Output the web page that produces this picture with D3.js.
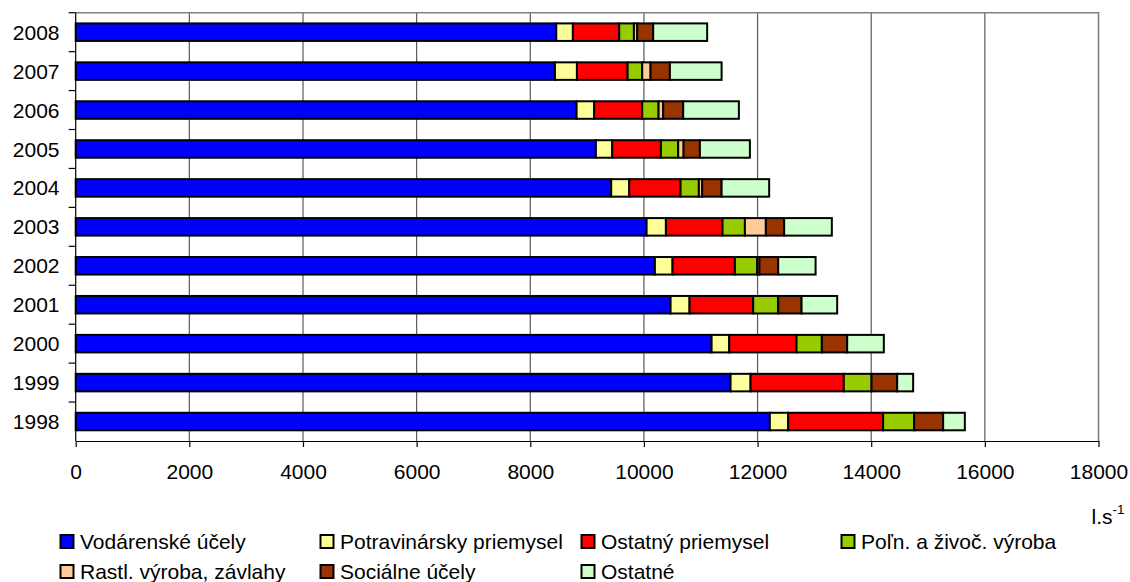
<!DOCTYPE html>
<html>
<head>
<meta charset="utf-8">
<script src="https://cdn.jsdelivr.net/npm/d3@7"></script>
<style>
  html, body { margin: 0; padding: 0; background: #fff; }
  svg { display: block; font-family: "Liberation Sans", Arial, sans-serif; }
</style>
</head>
<body>
<svg id="chart" width="1130" height="582"></svg>
<script>
// ---- data ----
const years = ["1998", "1999", "2000", "2001", "2002", "2003", "2004", "2005", "2006", "2007", "2008"];
const vodarenske      = [12216, 11525, 11191, 10469, 10193, 10047, 9424, 9155, 8815, 8434, 8457];
const potravinarsky   = [323, 352, 310, 334, 311, 340, 317, 287, 310, 387, 293];
const ostatnyPriemysel= [1671, 1641, 1185, 1120, 1097, 997, 904, 857, 845, 892, 815];
const polnVyroba      = [546, 488, 445, 440, 392, 393, 322, 304, 288, 257, 259];
const rastlVyroba     = [0, 0, 0, 0, 40, 369, 58, 95, 81, 147, 58];
const socialne        = [510, 451, 446, 411, 330, 322, 342, 287, 352, 340, 281];
const ostatne         = [382, 281, 645, 627, 658, 839, 837, 880, 980, 910, 950];
const seriesNames = ["Vodárenské účely", "Potravinársky priemysel", "Ostatný priemysel",
  "Poľn. a živoč. výroba", "Rastl. výroba, závlahy", "Sociálne účely", "Ostatné"];
const xTicks = [0, 2000, 4000, 6000, 8000, 10000, 12000, 14000, 16000, 18000];
const unitLabel = "l.s";
const unitSup = "-1";

// ---- styles ----
const colors = ["#0000FF", "#FFFF99", "#FF0000", "#99CC00", "#FFCC99", "#993300", "#CCFFCC"];
const seriesValues = [vodarenske, potravinarsky, ostatnyPriemysel, polnVyroba, rastlVyroba, socialne, ostatne];
const FS = "21px";

const table = years.map((y, i) => {
  const row = { year: y };
  seriesNames.forEach((s, k) => row[s] = seriesValues[k][i]);
  return row;
});
const stacked = d3.stack().keys(seriesNames)(table);

const svg = d3.select("#chart");
const plot = { left: 75.7, right: 1098.5, top: 12.7, bottom: 441 };

const x = d3.scaleLinear().domain([0, 18000]).range([plot.left, plot.right]);
const y = d3.scaleBand().domain(years.slice().reverse())
  .range([plot.top, plot.bottom]).paddingInner(0.55).paddingOuter(0.275);
const yOuter = d3.scaleBand().domain(years.slice().reverse()).range([plot.top, plot.bottom]);

// gridlines
svg.append("g").selectAll("line").data(xTicks.slice(1, -1)).join("line")
  .attr("x1", d => x(d)).attr("x2", d => x(d))
  .attr("y1", plot.top).attr("y2", plot.bottom)
  .attr("stroke", "#5a5a5a").attr("stroke-width", 1.2);

// plot border (top and right)
svg.append("path")
  .attr("d", `M${plot.left},${plot.top}H${plot.right}V${plot.bottom}`)
  .attr("fill", "none").attr("stroke", "#808080").attr("stroke-width", 1.6);

// bars
const layers = svg.append("g").selectAll("g").data(stacked).join("g")
  .attr("fill", (d, i) => colors[i]);
layers.selectAll("rect").data(d => d.filter(p => p[1] - p[0] > 0)).join("rect")
  .attr("x", d => x(d[0]))
  .attr("width", d => x(d[1]) - x(d[0]))
  .attr("y", d => y(d.data.year))
  .attr("height", y.bandwidth())
  .attr("stroke", "#000").attr("stroke-width", 2);

// x axis
const xAxis = svg.append("g").attr("transform", `translate(0,${plot.bottom})`)
  .call(d3.axisBottom(x).tickValues(xTicks).tickFormat(d3.format("d"))
    .tickSize(6).tickPadding(17).tickSizeOuter(0));
xAxis.select(".domain").attr("stroke", "#000").attr("stroke-width", 1.2);
xAxis.selectAll(".tick line").attr("stroke", "#000").attr("stroke-width", 1.2);
xAxis.selectAll("text").attr("font-size", FS).attr("fill", "#000")
  .attr("font-family", '"Liberation Sans", Arial, sans-serif');

// y axis
svg.append("line").attr("x1", plot.left).attr("x2", plot.left)
  .attr("y1", plot.top).attr("y2", plot.bottom).attr("stroke", "#000").attr("stroke-width", 1.2);
const boundaries = years.slice().reverse().map(yy => yOuter(yy));
svg.append("g").selectAll("line").data(boundaries).join("line")
  .attr("x1", plot.left - 7).attr("x2", plot.left)
  .attr("y1", d => d).attr("y2", d => d)
  .attr("stroke", "#000").attr("stroke-width", 1.2);
svg.append("g").selectAll("text").data(years).join("text")
  .attr("x", 59.5)
  .attr("y", d => yOuter(d) + yOuter.bandwidth() / 2)
  .attr("dy", "0.36em")
  .attr("text-anchor", "end")
  .attr("font-size", FS)
  .text(d => d);

// unit label
const unit = svg.append("text").attr("x", 1091.5).attr("y", 524).attr("font-size", FS);
unit.append("tspan").text(unitLabel);
unit.append("tspan").attr("font-size", "13.5px").attr("dy", "-10").text(unitSup);

// legend
const legendPos = [[60, 541.5], [320, 541.5], [581, 541.5], [841, 541.5],
                   [60, 571.5], [320, 571.5], [581, 571.5]];
const legend = svg.append("g").selectAll("g").data(seriesNames).join("g")
  .attr("transform", (d, i) => `translate(${legendPos[i][0]},${legendPos[i][1]})`);
legend.append("rect").attr("x", 0.5).attr("y", -6.5).attr("width", 13).attr("height", 13)
  .attr("fill", (d, i) => colors[i]).attr("stroke", "#000").attr("stroke-width", 2);
legend.append("text").attr("x", 20).attr("dy", "0.36em").attr("font-size", FS)
  .text(d => d);
</script>
</body>
</html>
